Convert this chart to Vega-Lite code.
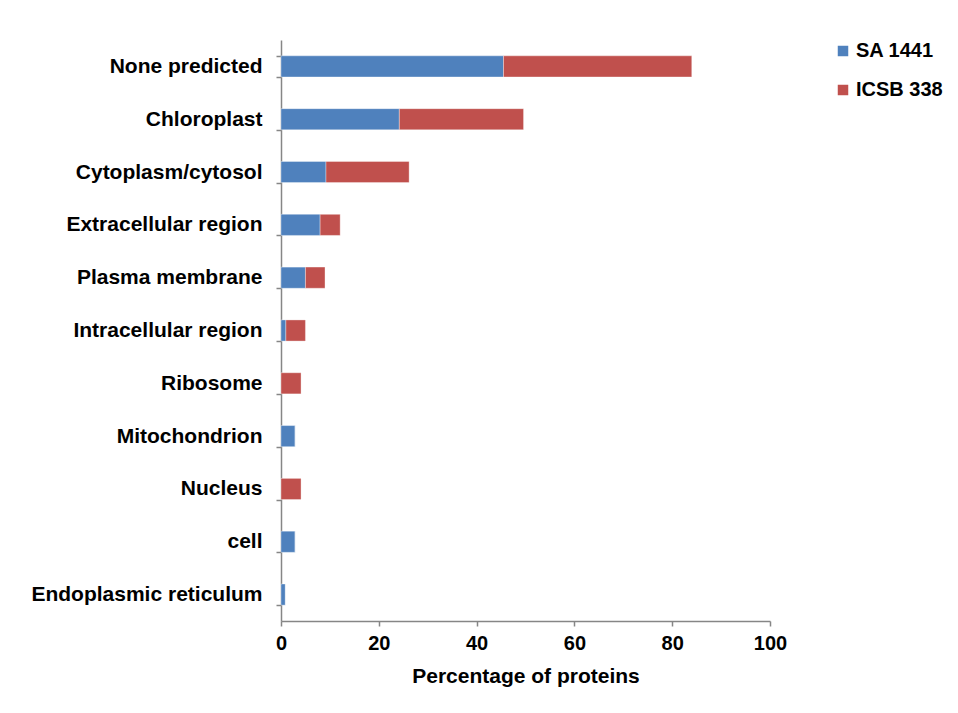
{
  "$schema": "https://vega.github.io/schema/vega-lite/v6.json",
  "autosize": {"type": "none"},
  "padding": {"left": 281, "top": 40, "right": 188, "bottom": 92},
  "width": 489,
  "height": 581,
  "background": "white",
  "data": {"values": [
    {"loc": "None predicted", "series": "SA 1441", "k": 1, "pct": 45.5},
    {"loc": "None predicted", "series": "ICSB 338", "k": 2, "pct": 38.5},
    {"loc": "Chloroplast", "series": "SA 1441", "k": 1, "pct": 24.2},
    {"loc": "Chloroplast", "series": "ICSB 338", "k": 2, "pct": 25.4},
    {"loc": "Cytoplasm/cytosol", "series": "SA 1441", "k": 1, "pct": 9.2},
    {"loc": "Cytoplasm/cytosol", "series": "ICSB 338", "k": 2, "pct": 17},
    {"loc": "Extracellular region", "series": "SA 1441", "k": 1, "pct": 8},
    {"loc": "Extracellular region", "series": "ICSB 338", "k": 2, "pct": 4.1},
    {"loc": "Plasma membrane", "series": "SA 1441", "k": 1, "pct": 5},
    {"loc": "Plasma membrane", "series": "ICSB 338", "k": 2, "pct": 4},
    {"loc": "Intracellular region", "series": "SA 1441", "k": 1, "pct": 1},
    {"loc": "Intracellular region", "series": "ICSB 338", "k": 2, "pct": 4},
    {"loc": "Ribosome", "series": "SA 1441", "k": 1, "pct": 0},
    {"loc": "Ribosome", "series": "ICSB 338", "k": 2, "pct": 4.1},
    {"loc": "Mitochondrion", "series": "SA 1441", "k": 1, "pct": 2.9},
    {"loc": "Mitochondrion", "series": "ICSB 338", "k": 2, "pct": 0},
    {"loc": "Nucleus", "series": "SA 1441", "k": 1, "pct": 0},
    {"loc": "Nucleus", "series": "ICSB 338", "k": 2, "pct": 4.1},
    {"loc": "cell", "series": "SA 1441", "k": 1, "pct": 2.9},
    {"loc": "cell", "series": "ICSB 338", "k": 2, "pct": 0},
    {"loc": "Endoplasmic reticulum", "series": "SA 1441", "k": 1, "pct": 0.9},
    {"loc": "Endoplasmic reticulum", "series": "ICSB 338", "k": 2, "pct": 0}
  ]},
  "mark": {"type": "bar", "stroke": "white", "strokeOpacity": 0.35, "strokeWidth": 1},
  "encoding": {
    "y": {
      "field": "loc", "type": "nominal",
      "sort": ["None predicted", "Chloroplast", "Cytoplasm/cytosol", "Extracellular region", "Plasma membrane", "Intracellular region", "Ribosome", "Mitochondrion", "Nucleus", "cell", "Endoplasmic reticulum"],
      "scale": {"paddingInner": 0.6, "paddingOuter": 0.3},
      "axis": {"title": null, "labelFontSize": 21, "labelLimit": 400, "labelPadding": 14, "tickSize": 5, "tickBand": "extent", "domainColor": "#868686", "tickColor": "#868686", "domainWidth": 1.5, "tickWidth": 1.5}
    },
    "x": {
      "field": "pct", "type": "quantitative", "stack": "zero",
      "scale": {"domain": [0, 100], "nice": false},
      "axis": {"title": "Percentage of proteins", "values": [0, 20, 40, 60, 80, 100], "grid": false, "labelFlush": false, "labelOverlap": false, "labelFontSize": 20, "titleFontSize": 21, "labelPadding": 7, "titlePadding": 12, "tickSize": 5, "domainColor": "#868686", "tickColor": "#868686", "domainWidth": 1.5, "tickWidth": 1.5}
    },
    "color": {
      "field": "series", "type": "nominal",
      "scale": {"domain": ["SA 1441", "ICSB 338"], "range": ["#4F81BD", "#C0504D"]},
      "legend": {"title": null, "orient": "none", "legendX": 552, "legendY": 1, "symbolType": "square", "symbolSize": 110, "symbolStrokeWidth": 0, "labelFontSize": 20, "labelFont": "Liberation Sans", "labelFontWeight": "bold", "labelColor": "black", "rowPadding": 19, "labelOffset": 3}
    },
    "order": {"field": "k", "type": "quantitative"}
  },
  "config": {
    "font": "Liberation Sans",
    "view": {"stroke": null},
    "axis": {"labelFont": "Liberation Sans", "labelFontWeight": "bold", "labelColor": "black", "titleFont": "Liberation Sans", "titleFontWeight": "bold", "titleColor": "black"}
  }
}
